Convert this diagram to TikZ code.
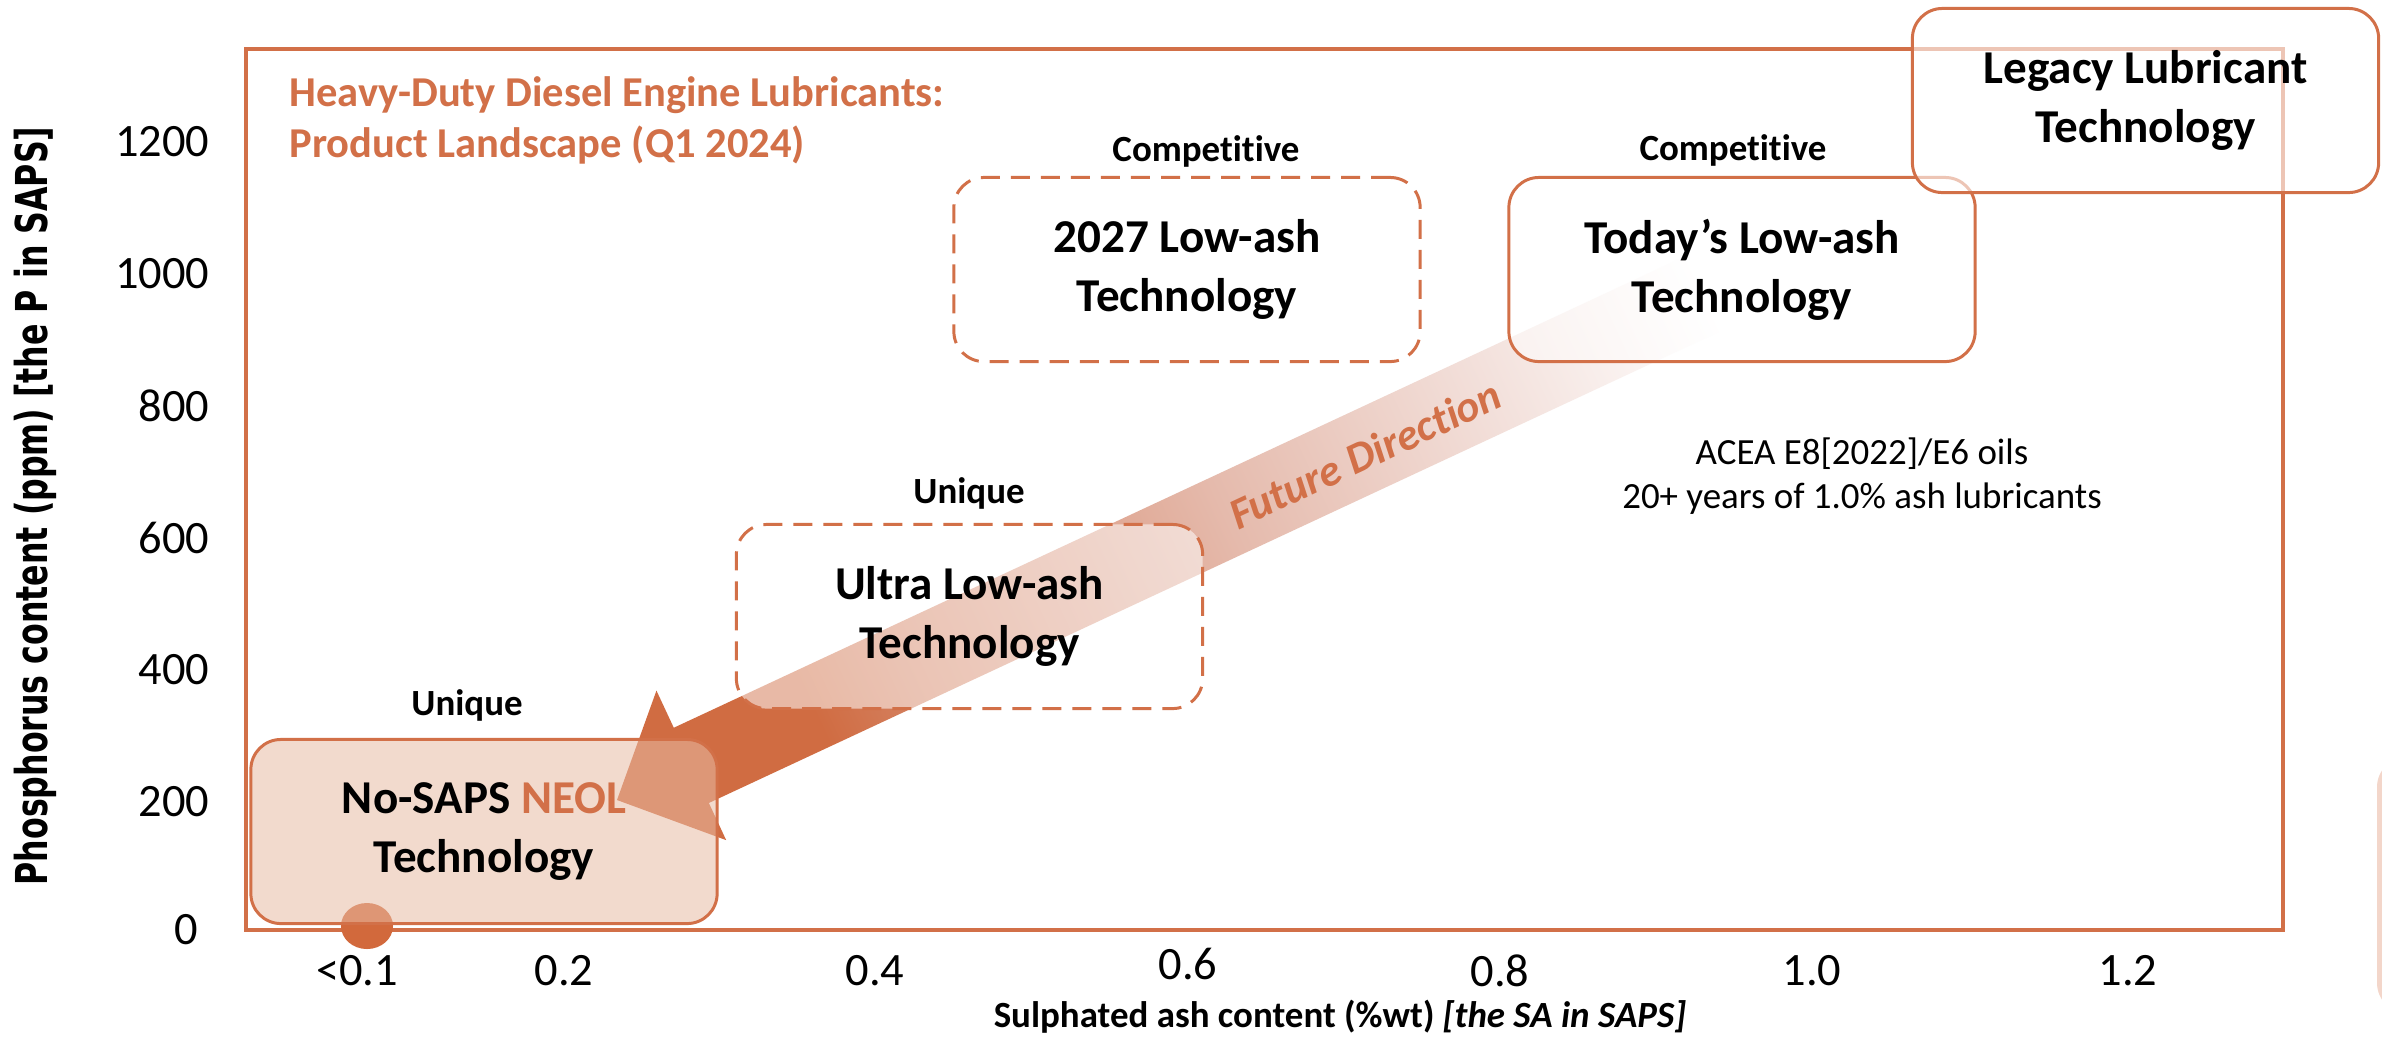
\documentclass[tikz,border=0pt]{standalone}
\usepackage{fontspec}
\setmainfont{Carlito}[Ligatures=NoCommon]
\newfontfamily\ylabfamily{DejaVu Sans}

\definecolor{accent}{RGB}{210,112,72}
\definecolor{headc}{RGB}{208,108,66}
\definecolor{bandA}{RGB}{212,128,95}
\definecolor{bandB}{RGB}{229,186,172}
\definecolor{bandC}{RGB}{243,225,220}
\definecolor{neolfill}{RGB}{233,188,164}
\definecolor{dotc}{RGB}{210,105,60}
\definecolor{edgepink}{RGB}{243,214,202}

% gradient of the "future direction" band: solid at the head, fading out at the tail
\pgfdeclarehorizontalshading{futureband}{100bp}{color(0bp)=(headc); color(34bp)=(headc); color(38bp)=(bandA); color(53bp)=(bandB); color(65.4bp)=(bandC); color(75bp)=(white); color(100bp)=(white)}

\newcommand\tickfont{\fontsize{13.2pt}{15pt}\selectfont}
\newcommand\techfont{\fontsize{13.4pt}{16.8pt}\selectfont\bfseries}
\newcommand\tagfont{\fontsize{10.5pt}{12.5pt}\selectfont\bfseries}
\newcommand\notefont{\fontsize{10.5pt}{12.6pt}\selectfont}
\newcommand\headfont{\fontsize{12.1pt}{14.6pt}\selectfont\bfseries}

\begin{document}
\begin{tikzpicture}[x=0.01cm, y=-0.01cm,
  tick/.style={font=\tickfont, inner sep=0},
  tag/.style={font=\tagfont, inner sep=0},
  techbox/.style={draw=accent, line width=0.85pt, rounded corners=0.3cm,
    minimum width=4.66cm, minimum height=1.84cm, align=center, font=\techfont,
    inner sep=0, text opacity=1},
  plainbox/.style={techbox, fill=white, fill opacity=0.5},
  dashbox/.style={techbox, fill=white, fill opacity=0.53, dash pattern=on 0.19cm off 0.11cm},
  neolbox/.style={techbox, fill=neolfill, fill opacity=0.55}]

\useasboundingbox (0,0) rectangle (2382,1038);
\fill[white] (0,0) rectangle (2382,1038);

% partial panel at the right edge
\begin{scope}
  \clip (0,0) rectangle (2382,1038);
  \fill[edgepink, rounded corners=0.3cm] (2377,757) rectangle (2440,1013);
\end{scope}

% plot frame
\draw[accent, line width=1.1pt] (246,49) rectangle (2283,930);

% axis labels
\node[rotate=90, inner sep=0] (ylab) at (35,506)
  {\scalebox{0.72}[1]{\ylabfamily\bfseries\fontsize{12.5pt}{15pt}\selectfont Phosphorus content (ppm) [the P in SAPS]}};
\node[inner sep=0, font=\fontsize{10.5pt}{12.5pt}\selectfont\bfseries] (xlab) at (1340,1017)
  {Sulphated ash content (\%wt) \textit{[the SA in SAPS]}};

% y ticks
\node[tick, anchor=east] (y1200) at (210,142) {1200};
\node[tick, anchor=east] (y1000) at (210,274) {1000};
\node[tick, anchor=east] (y800) at (210,406) {800};
\node[tick, anchor=east] (y600) at (210,538) {600};
\node[tick, anchor=east] (y400) at (210,670) {400};
\node[tick, anchor=east] (y200) at (210,802) {200};
\node[tick] (y0) at (186,930) {0};

% x ticks
\node[tick] (x01) at (357,971) {<0.1};
\node[tick] (x02) at (564,971) {0.2};
\node[tick] (x04) at (875,971) {0.4};
\node[tick] (x06) at (1188,964) {0.6};
\node[tick] (x08) at (1500,971) {0.8};
\node[tick] (x10) at (1812,971) {1.0};
\node[tick] (x12) at (2128,971) {1.2};

% title
\node[anchor=north west, align=left, inner sep=0, font=\headfont, text=accent] (title) at (289,76)
  {Heavy-Duty Diesel Engine Lubricants:\\Product Landscape (Q1 2024)};

% marker at the origin
\fill[dotc] (367,926) ellipse [x radius=0.26cm, y radius=0.23cm];

% future direction band with arrow head
\begin{scope}[transform canvas={shift={(617,800)}, rotate=25}]
  \shade[shading=futureband] (0,0) -- (82,-82.5) -- (82,-41.5) -- (1200,-41.5)
    -- (1200,41.5) -- (82,41.5) -- (82,82.5) -- cycle;
\end{scope}

% technology boxes
\node[neolbox] (neol) at (484,831.5) {No-SAPS \textcolor{accent}{NEOL}\\Technology};
\node[dashbox] (ultra) at (969.5,616.5) {Ultra Low-ash\\Technology};
\node[dashbox] (y2027) at (1187,269.5) {2027 Low-ash\\Technology};
\node[plainbox] (today) at (1742,269.5) {Today’s Low-ash\\Technology};
\node[techbox, fill=white, fill opacity=0.6] (legacy) at (2145.5,100.5) {Legacy Lubricant\\Technology};

% tags above the boxes
\node[tag] (tagneol) at (467,705) {Unique};
\node[tag] (tagultra) at (969,493) {Unique};
\node[tag] (tag2027) at (1206,151) {Competitive};
\node[tag] (tagtoday) at (1733,150) {Competitive};

% note
\node[align=center, inner sep=0, font=\notefont] (note) at (1862,476)
  {ACEA E8[2022]/E6 oils\\20+ years of 1.0\% ash lubricants};

% band label
\node[rotate=25, inner sep=0, text=accent, font=\fontsize{12.5pt}{15pt}\selectfont\bfseries\itshape] (future) at (1365,454)
  {Future Direction};

\end{tikzpicture}
\end{document}
